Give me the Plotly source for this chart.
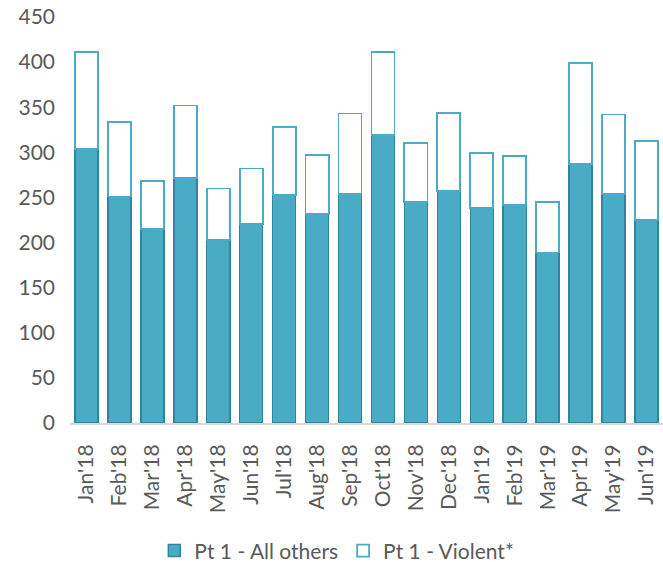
import plotly.graph_objects as go

months = ["Jan'18", "Feb'18", "Mar'18", "Apr'18", "May'18", "Jun'18", "Jul'18", "Aug'18",
          "Sep'18", "Oct'18", "Nov'18", "Dec'18", "Jan'19", "Feb'19", "Mar'19", "Apr'19",
          "May'19", "Jun'19"]
all_others = [304, 251, 215, 272, 203, 221, 253, 232, 254, 319, 245, 257, 238, 242, 189, 287, 254, 225]
violent = [107, 83, 53, 80, 57, 61, 75, 65, 89, 92, 65, 87, 61, 54, 56, 112, 88, 88]
y_ticks = [0, 50, 100, 150, 200, 250, 300, 350, 400, 450]

font_family = "Lato, 'Open Sans', sans-serif"
grey = "#595959"

fig = go.Figure()
fig.add_trace(go.Bar(
    x=months, y=all_others, name="Pt 1 - All others",
    marker=dict(color="#4AABC6", line=dict(color="#31849B", width=1.5)),
))
fig.add_trace(go.Bar(
    x=months, y=violent, name="Pt 1 - Violent*",
    marker=dict(color="#FFFFFF", line=dict(color="#4AABC6", width=1.8)),
))

fig.update_layout(
    barmode="stack",
    bargap=0.3,
    width=663, height=562,
    margin=dict(l=70, r=0, t=17, b=139, autoexpand=False),
    paper_bgcolor="white", plot_bgcolor="white",
    font=dict(family=font_family, color=grey),
    showlegend=True,
    legend=dict(orientation="h", x=0.45, xanchor="center", y=-0.315, yanchor="middle",
                font=dict(size=21, color=grey), traceorder="normal"),
    xaxis=dict(tickangle=-90, tickfont=dict(size=21, color=grey), showline=True,
               linecolor="#D9D9D9", linewidth=2, showgrid=False, ticks="",
               ticklabelstandoff=11, automargin=False),
    yaxis=dict(range=[0, 450], tickvals=y_ticks, tickfont=dict(size=21, color=grey),
               showgrid=False, showline=False, zeroline=False, ticks="",
               ticklabelstandoff=14, automargin=False),
)

fig.write_html("out.html", config={"displayModeBar": False},
               post_script="document.body.style.margin='0';document.body.style.overflow='hidden';")
